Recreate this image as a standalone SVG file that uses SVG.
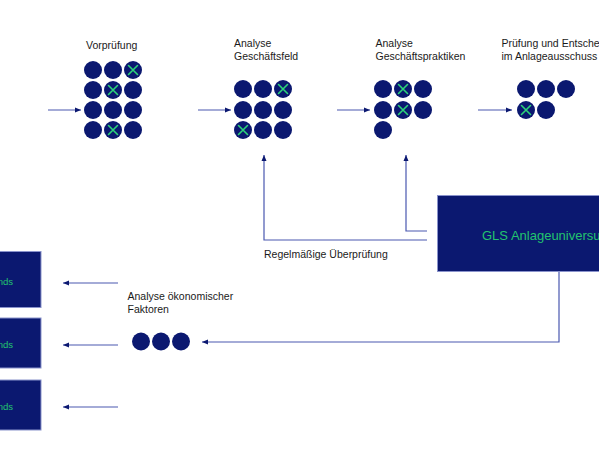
<svg xmlns="http://www.w3.org/2000/svg" width="599" height="450" viewBox="0 0 599 450">
<defs>
<style>
.lbl{font-family:"Liberation Sans",Arial,sans-serif;font-size:10.5px;fill:#1a1a1a}
.dot{fill:#0b1870}
.x{stroke:#2ed47a;stroke-width:1.6;fill:none;stroke-linecap:round}
.conn{stroke:#4a58b0;stroke-width:1.2;fill:none}
.box{fill:#0b1870;stroke:#8a93cc;stroke-width:1}
.boxtxt{font-family:"Liberation Sans",Arial,sans-serif;fill:#22c46e}
</style>
<marker id="ah" markerUnits="userSpaceOnUse" markerWidth="7" markerHeight="6" refX="6" refY="3" orient="auto">
<path d="M0,0.5 L6,3 L0,5.5 z" fill="#0b1870"/>
</marker>
<g id="xm"><path class="x" d="M-4.5,-4.5 L4.5,4.5 M4.5,-4.5 L-4.5,4.5"/></g>
</defs>
<rect width="599" height="450" fill="#ffffff"/>

<g id="connectors">
<path class="conn" d="M48,110 H81" marker-end="url(#ah)"/>
<path class="conn" d="M198,110 H231" marker-end="url(#ah)"/>
<path class="conn" d="M337,110 H370" marker-end="url(#ah)"/>
<path class="conn" d="M478,110 H512" marker-end="url(#ah)"/>
<path class="conn" d="M427,240 H264 V155" marker-end="url(#ah)"/>
<path class="conn" d="M427,231 H406 V155" marker-end="url(#ah)"/>
<path class="conn" d="M559,272 V342 H202" marker-end="url(#ah)"/>
<path class="conn" d="M118,283 H63" marker-end="url(#ah)"/>
<path class="conn" d="M118,345 H63" marker-end="url(#ah)"/>
<path class="conn" d="M118,407 H63" marker-end="url(#ah)"/>
</g>

<g id="vorpruefung">
<text class="lbl" x="86" y="49">Vorprüfung</text>
<circle class="dot" cx="93" cy="70" r="9"/><circle class="dot" cx="113" cy="70" r="9"/><circle class="dot" cx="133" cy="70" r="9"/>
<circle class="dot" cx="93" cy="90" r="9"/><circle class="dot" cx="113" cy="90" r="9"/><circle class="dot" cx="133" cy="90" r="9"/>
<circle class="dot" cx="93" cy="110" r="9"/><circle class="dot" cx="113" cy="110" r="9"/><circle class="dot" cx="133" cy="110" r="9"/>
<circle class="dot" cx="93" cy="130" r="9"/><circle class="dot" cx="113" cy="130" r="9"/><circle class="dot" cx="133" cy="130" r="9"/>
<use href="#xm" x="133" y="70"/><use href="#xm" x="113" y="90"/><use href="#xm" x="113" y="130"/>
</g>

<g id="analyse-geschaeftsfeld">
<text class="lbl" x="234" y="47">Analyse</text>
<text class="lbl" x="234" y="59.5">Geschäftsfeld</text>
<circle class="dot" cx="243" cy="89" r="9"/><circle class="dot" cx="263" cy="89" r="9"/><circle class="dot" cx="283" cy="89" r="9"/>
<circle class="dot" cx="243" cy="110" r="9"/><circle class="dot" cx="263" cy="110" r="9"/><circle class="dot" cx="283" cy="110" r="9"/>
<circle class="dot" cx="243" cy="130" r="9"/><circle class="dot" cx="263" cy="130" r="9"/><circle class="dot" cx="283" cy="130" r="9"/>
<use href="#xm" x="283" y="89"/><use href="#xm" x="243" y="130"/>
</g>

<g id="analyse-geschaeftspraktiken">
<text class="lbl" x="375.5" y="47">Analyse</text>
<text class="lbl" x="375.5" y="59.5">Geschäftspraktiken</text>
<circle class="dot" cx="383" cy="89" r="9"/><circle class="dot" cx="403" cy="89" r="9"/><circle class="dot" cx="423" cy="89" r="9"/>
<circle class="dot" cx="383" cy="110" r="9"/><circle class="dot" cx="403" cy="110" r="9"/><circle class="dot" cx="423" cy="110" r="9"/>
<circle class="dot" cx="383" cy="130" r="9"/>
<use href="#xm" x="403" y="89"/><use href="#xm" x="403" y="110"/>
</g>

<g id="pruefung">
<text class="lbl" x="501.5" y="47">Prüfung und Entscheidung</text>
<text class="lbl" x="501.5" y="59.5">im Anlageausschuss</text>
<circle class="dot" cx="526" cy="89" r="9"/><circle class="dot" cx="546" cy="89" r="9"/><circle class="dot" cx="566" cy="89" r="9"/>
<circle class="dot" cx="526" cy="110" r="9"/><circle class="dot" cx="546" cy="110" r="9"/>
<use href="#xm" x="526" y="110"/>
</g>

<g id="ueberpruefung-label">
<text class="lbl" x="264" y="257.5">Regelmäßige Überprüfung</text>
</g>

<g id="gls-anlageuniversum">
<rect class="box" x="437.5" y="195.5" width="175" height="76"/>
<text class="boxtxt" x="482" y="240" font-size="13">GLS Anlageuniversum</text>
</g>

<g id="analyse-oekonomisch">
<text class="lbl" x="127.5" y="300">Analyse ökonomischer</text>
<text class="lbl" x="127.5" y="312.5">Faktoren</text>
<circle class="dot" cx="141" cy="341.5" r="9"/><circle class="dot" cx="161" cy="341.5" r="9"/><circle class="dot" cx="181" cy="341.5" r="9"/>
</g>

<g id="fonds-1">
<rect class="box" x="-2" y="251.5" width="43" height="56"/>
<text class="boxtxt" x="13" y="284.5" font-size="9.5" text-anchor="end">nds</text>
</g>
<g id="fonds-2">
<rect class="box" x="-2" y="318" width="43" height="50"/>
<text class="boxtxt" x="13" y="348" font-size="9.5" text-anchor="end">nds</text>
</g>
<g id="fonds-3">
<rect class="box" x="-2" y="380" width="43" height="50"/>
<text class="boxtxt" x="13" y="410" font-size="9.5" text-anchor="end">nds</text>
</g>
</svg>
